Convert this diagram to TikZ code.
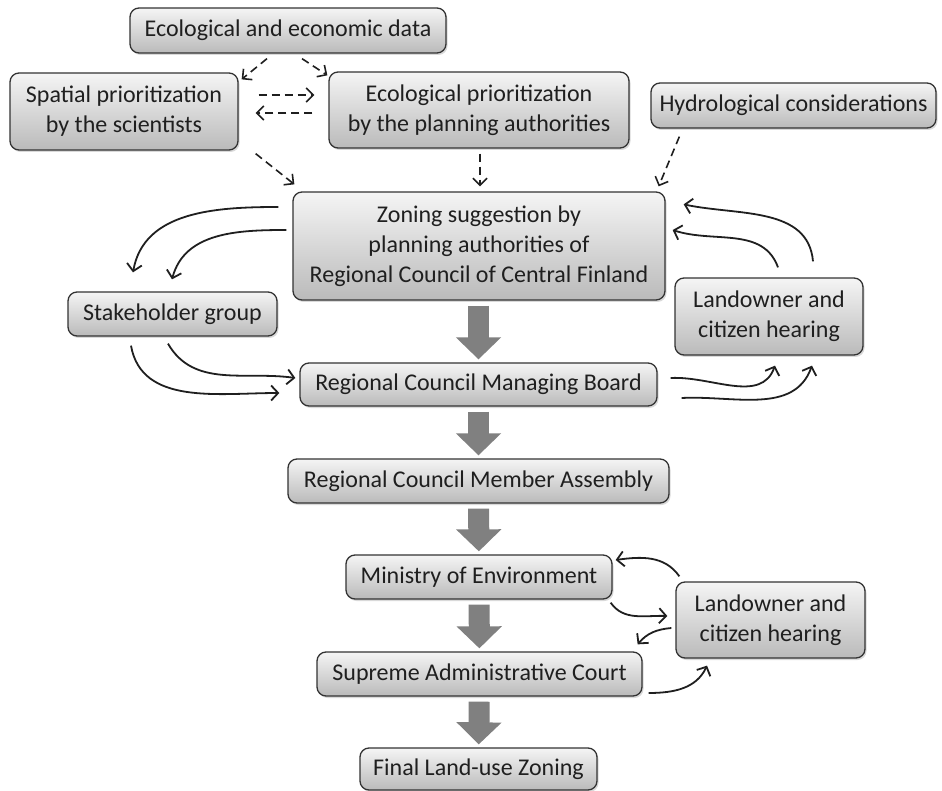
\documentclass[tikz,border=0pt]{standalone}
\usepackage{fontspec}
\setmainfont{Carlito}
\usepackage{tikz}
\usetikzlibrary{arrows,arrows.meta,shadows}

\tikzset{
  box/.style={draw=black!80, line width=1.3pt, rounded corners=9pt,
    top color=black!4, bottom color=black!27,
    drop shadow={shadow xshift=1.5pt, shadow yshift=-2pt, opacity=0.3},
    align=center, inner sep=0pt, text=black!88,
    font=\fontsize{24}{30}\selectfont},
  dashflow/.style={draw=black!88, line width=1.6pt, dash pattern=on 8pt off 5pt,
    -{Straight Barb[length=7pt,width=14pt]}},
  flow/.style={draw=black!88, line width=1.8pt,
    -{Straight Barb[length=7pt,width=15pt]}},
  fat/.style={draw=black!50, line width=21pt,
    -{Triangle[width=44pt,length=22pt]}, shorten <=5pt, shorten >=3pt}
}

\begin{document}
\begin{tikzpicture}[x=1pt, y=1pt]
			\useasboundingbox (0, 0) rectangle (942, -791);

			\node[box, minimum width=316pt, minimum height=45pt] (data) at (288, -30.5) {Ecological and economic data};
			\node[box, minimum width=228pt, minimum height=77pt] (spatial) at (124, -111.5) {Spatial prioritization\\by the scientists};
			\node[box, minimum width=300pt, minimum height=76pt] (ecoprio) at (479, -110) {Ecological prioritization\\by the planning authorities};
			\node[box, minimum width=285pt, minimum height=45pt] (hydro) at (793.5, -105.5) {Hydrological considerations};
			\node[box, minimum width=372pt, minimum height=108pt] (zoning) at (479, -246) {Zoning suggestion by\\planning authorities of\\Regional Council of Central Finland};
			\node[box, minimum width=209pt, minimum height=44pt] (stake) at (172.5, -314) {Stakeholder group};
			\node[box, minimum width=188pt, minimum height=77pt] (hear1) at (769, -316.5) {Landowner and\\citizen hearing};
			\node[box, minimum width=357pt, minimum height=43pt] (board) at (478.5, -384.5) {Regional Council Managing Board};
			\node[box, minimum width=381pt, minimum height=44pt] (assembly) at (478.5, -481) {Regional Council Member Assembly};
			\node[box, minimum width=266pt, minimum height=44pt] (ministry) at (479, -577) {Ministry of Environment};
			\node[box, minimum width=189pt, minimum height=76pt] (hear2) at (770.5, -620) {Landowner and\\citizen hearing};
			\node[box, minimum width=325pt, minimum height=44pt] (court) at (479.5, -674) {Supreme Administrative Court};
			\node[box, minimum width=237pt, minimum height=42pt] (final) at (478.5, -769) {Final Land-use Zoning};

			% data inputs
			\draw [dashflow] ([shift={(-21,-5)}]data.south) to ([shift={(3,-7)}]spatial.north east);
			\draw [dashflow] ([shift={(14,-5)}]data.south) to ([shift={(-1,-4)}]ecoprio.north west);
			\draw [dashflow] ([shift={(20,16.5)}]spatial.east) to ([shift={(-14,15)}]ecoprio.west);
			\draw [dashflow] ([shift={(-16,-3)}]ecoprio.west) to ([shift={(17,-1.5)}]spatial.east);
			\draw [dashflow] ([shift={(17,-3)}]spatial.south east) to ([shift={(2,7)}]zoning.north west);
			\draw [dashflow] ([shift={(1,-5)}]ecoprio.south) to ([shift={(1,5)}]zoning.north);
			\draw [dashflow] ([shift={(29,-8)}]hydro.south west) to ([shift={(-7,5)}]zoning.north east);

			% main line
			\draw [fat] (zoning.south -| board.north) to (board.north);
			\draw [fat] (board) to (assembly);
			\draw [fat] (assembly) to (ministry);
			\draw [fat] (ministry) to (court);
			\draw [fat] (court) to (final);

			% stakeholder loop
			\draw [flow] ([shift={(-14,39)}]zoning.west) to[out=180, in=80] ([shift={(-39.5,19)}]stake.north);
			\draw [flow] ([shift={(-6,16)}]zoning.west) to[out=180, in=75] ([shift={(-0.5,12)}]stake.north);
			\draw [flow] ([shift={(-41.5,-9)}]stake.south) to[out=-80, in=180] ([shift={(-20,-8.5)}]board.west);
			\draw [flow] ([shift={(-4.5,-7)}]stake.south) to[out=-60, in=172] ([shift={(-4,6.5)}]board.west);

			% first hearing
			\draw [flow] ([shift={(44,16)}]hear1.north) to[out=95, in=-12] ([shift={(18,-13)}]zoning.north east);
			\draw [flow] ([shift={(9,10)}]hear1.north) to[out=110, in=-18] ([shift={(7,16)}]zoning.east);
			\draw [flow] ([shift={(13,6.5)}]board.east) to[out=3, in=-110] ([shift={(6,-10)}]hear1.south);
			\draw [flow] ([shift={(24,-13.5)}]board.east) to[out=3, in=-110] ([shift={(43,-10)}]hear1.south);

			% second hearing
			\draw [flow] ([shift={(4,5)}]hear2.north west) to[out=125, in=8] ([shift={(3,17)}]ministry.east);
			\draw [flow] ([shift={(-2,-3)}]ministry.south east) to[out=-55, in=178] ([shift={(-8,4)}]hear2.west);
			\draw [flow] ([shift={(-4,-8)}]hear2.west) to[out=185, in=50] ([shift={(-5,7)}]court.north east);
			\draw [flow] ([shift={(6,-19)}]court.east) to[out=0, in=-115] ([shift={(-63.5,-7)}]hear2.south);
		\end{tikzpicture}
\end{document}
